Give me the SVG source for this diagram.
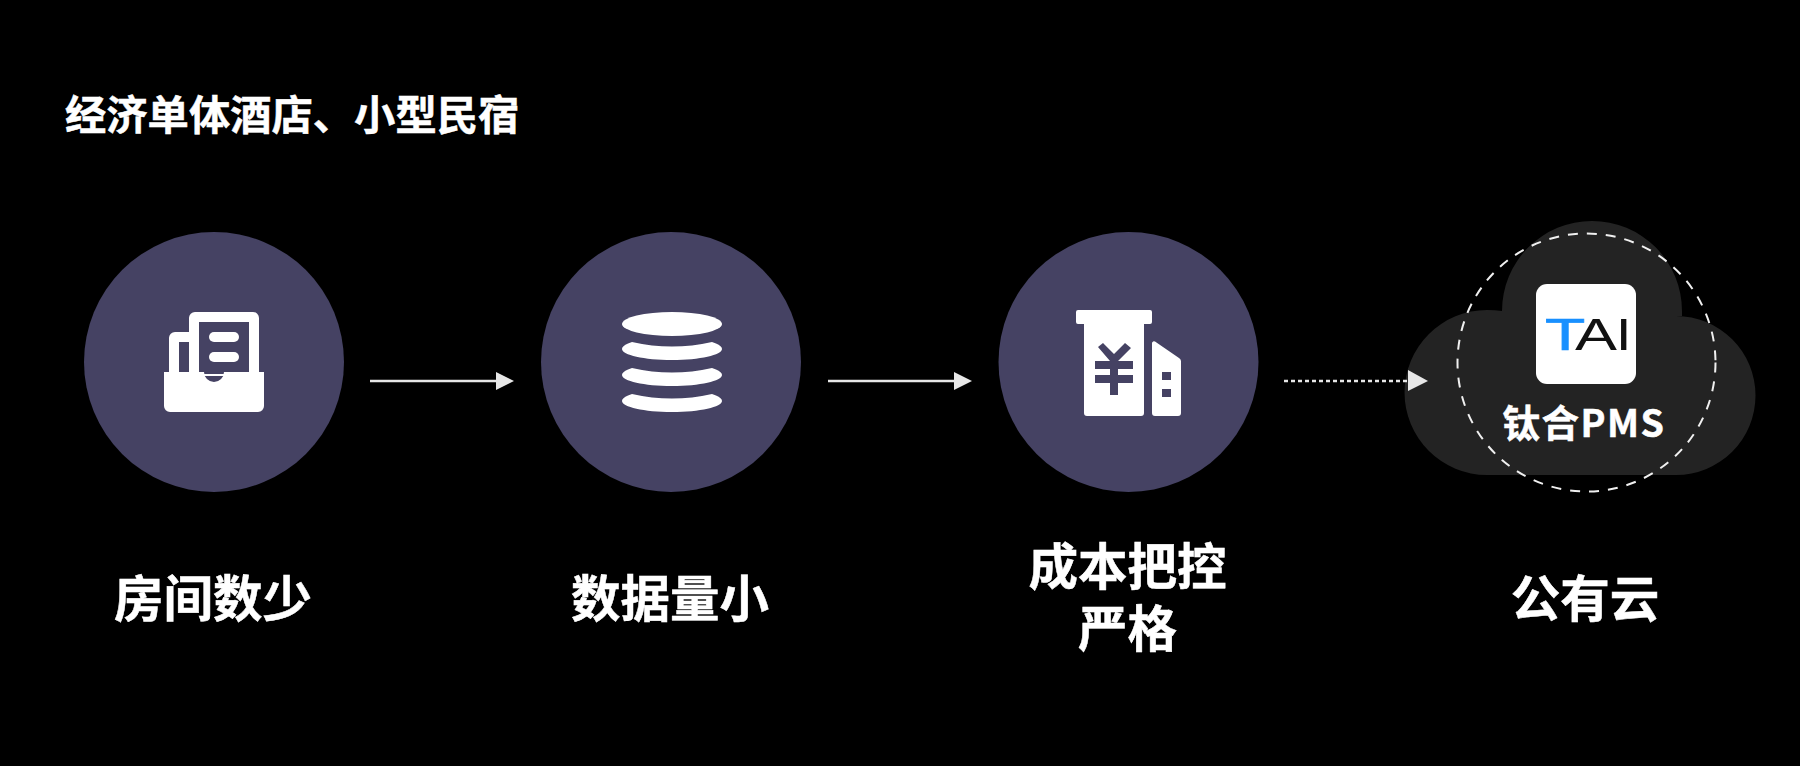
<svg xmlns="http://www.w3.org/2000/svg" width="1800" height="766" viewBox="0 0 1800 766">
<style>
text{font-family:"Noto Sans CJK SC","Noto Sans",sans-serif;font-weight:700;fill:#fff;stroke:#fff;stroke-width:.5}
.lbl{font-size:49.500px;text-anchor:middle}
.disc{fill:#454263}
.ink{fill:#fff}
.cut{fill:#454263}
.line{stroke:#e7e7e7;stroke-width:2.300;fill:none}
.head{fill:#e7e7e7}
text.logo{font-family:"Liberation Sans",sans-serif;font-weight:400;font-size:44px;fill:#111;stroke:none}
text.blue{fill:#1890ff;stroke:#1890ff;stroke-width:.6}
</style>
<rect width="1800" height="766" fill="#000"/>
<text x="65" y="130" font-size="41.300">经济单体酒店、小型民宿</text>

<g id="node-rooms">
<circle class="disc" cx="214" cy="362" r="130"/>
<path class="ink" d="M169 376V338a6 6 0 0 1 6-6H189V318a6 6 0 0 1 6-6H253a6 6 0 0 1 6 6V376Z"/>
<rect class="cut" x="179" y="342" width="10" height="32"/>
<rect class="cut" x="199" y="322" width="50" height="52"/>
<rect class="ink" x="209" y="332" width="30" height="10" rx="5"/>
<rect class="ink" x="209" y="352" width="30" height="10" rx="5"/>
<path class="ink" d="M164 372H204a10 10 0 0 0 20 0H264V406a6 6 0 0 1-6 6H170a6 6 0 0 1-6-6Z"/>
<text class="lbl" x="213" y="617">房间数少</text>
</g>

<g id="node-data">
<circle class="disc" cx="671" cy="362" r="130"/>
<ellipse class="ink" cx="672" cy="324" rx="50" ry="12"/>
<path class="ink" d="M632 342Q672 351 712 342L716 343.500Q722 346 722 349C722 355 700 360 672 360C644 360 622 355 622 349Q622 346 628 343.500Z"/>
<path class="ink" transform="translate(0 26)" d="M632 342Q672 351 712 342L716 343.500Q722 346 722 349C722 355 700 360 672 360C644 360 622 355 622 349Q622 346 628 343.500Z"/>
<path class="ink" transform="translate(0 52)" d="M632 342Q672 351 712 342L716 343.500Q722 346 722 349C722 355 700 360 672 360C644 360 622 355 622 349Q622 346 628 343.500Z"/>
<text class="lbl" x="670" y="617">数据量小</text>
</g>

<g id="node-cost">
<circle class="disc" cx="1128.500" cy="362" r="130"/>
<path class="ink" d="M1078 310H1150a2 2 0 0 1 2 2V322a2 2 0 0 1-2 2H1144V413a3 3 0 0 1-3 3H1087a3 3 0 0 1-3-3V324H1078a2 2 0 0 1-2-2V312a2 2 0 0 1 2-2Z"/>
<path class="cut" d="M1098 347L1103 343L1114 354L1125 343L1131 348L1118 361H1133V369H1118V375H1133V383H1118V395H1110V383H1095V375H1110V369H1095V361H1110Z"/>
<path class="ink" d="M1152 343a2 2 0 0 1 3-1.500L1179 358a4 4 0 0 1 2 3V413a3 3 0 0 1-3 3H1155a3 3 0 0 1-3-3Z"/>
<rect class="cut" x="1162" y="372" width="9" height="8"/>
<rect class="cut" x="1162" y="389" width="9" height="8"/>
<text class="lbl" x="1127.500" y="585">成本把控</text>
<text class="lbl" x="1127.500" y="647">严格</text>
</g>

<g id="node-cloud">
<path fill="#232323" d="M1487 475A82.500 82.500 0 0 1 1487 310Q1495 310 1502 311A90 90 0 0 1 1682 311V316H1676A79.500 79.500 0 0 1 1676 475Z"/>
<circle cx="1586.500" cy="362.500" r="129" fill="none" stroke="#f0f0f0" stroke-width="2" stroke-dasharray="10 9"/>
<rect x="1536" y="284" width="100" height="100" rx="11" fill="#fff"/>
<text class="logo blue" transform="translate(1545 350) scale(1.5 1)">T</text>
<text class="logo" transform="translate(1575 350) scale(1.43 1)">A</text>
<text class="logo" transform="translate(1615.800 350) scale(1.3 1)">I</text>
<text x="1584" y="437" font-size="37.500" text-anchor="middle" letter-spacing="1.500">钛合PMS</text>
<text class="lbl" x="1585" y="617">公有云</text>
</g>

<g id="connectors">
<path class="line" d="M370 381H497"/>
<path class="head" d="M496 372L514 381L496 390Z"/>
<path class="line" d="M828 381H955"/>
<path class="head" d="M954 372L972 381L954 390Z"/>
<path class="line" stroke-dasharray="4 3" d="M1284 381H1409"/>
<path class="head" d="M1408 370L1428 381L1408 391Z"/>
</g>
</svg>
